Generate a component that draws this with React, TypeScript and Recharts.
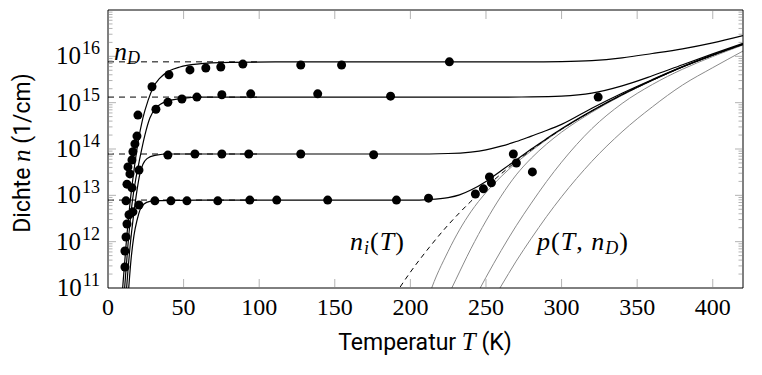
import React from "react";
import { ComposedChart, Line, Scatter, XAxis, YAxis } from "recharts";

// electron density n(T) for four donor concentrations (solid)
const c1T = [9.0, 9.7, 11.9, 14.5, 17.2, 19.8, 23.1, 26.4, 29.7, 34.3, 40.3, 47.5, 58.8, 80.6, 120, 200, 280, 300, 320, 340, 360, 380, 400, 420];
const c1N = [5e10, 1e11, 8.1e11, 6.5e12, 3.5e13, 1.35e14, 4.7e14, 1.09e15, 2.07e15, 3.4e15, 4.8e15, 5.9e15, 6.8e15, 7.4e15, 7.6e15, 7.6e15, 7.6e15, 7.7e15, 8.1e15, 9.3e15, 1.15e16, 1.45e16, 1.95e16, 2.8e16];

const c2T = [10.3, 11.0, 13.2, 15.8, 18.5, 21.1, 24.4, 27.7, 31.7, 39.6, 48.9, 60.8, 120, 200, 260, 280, 300, 320, 340, 360, 380, 400, 420];
const c2N = [5e10, 1e11, 8.5e11, 6.2e12, 2.37e13, 6.4e13, 2.0e14, 4.67e14, 7.7e14, 1.09e15, 1.23e15, 1.32e15, 1.32e15, 1.32e15, 1.32e15, 1.33e15, 1.38e15, 1.6e15, 2.3e15, 3.8e15, 6.6e15, 1.13e16, 1.9e16];

const c3T = [11.6, 12.3, 14.5, 17.2, 19.2, 21.1, 23.1, 25.8, 31.0, 40.9, 100, 200, 225, 240, 250, 260, 270, 280, 290, 300, 320, 340, 360, 380, 400, 420];
const c3N = [5e10, 1e11, 7.3e11, 4.4e12, 1.3e13, 2.9e13, 4.7e13, 6.2e13, 7.3e13, 7.8e13, 7.8e13, 7.8e13, 8.0e13, 8.6e13, 9.6e13, 1.15e14, 1.45e14, 1.9e14, 2.5e14, 3.4e14, 7.6e14, 1.6e15, 3.15e15, 6.0e15, 1.07e16, 1.85e16];

const c4T = [13.0, 13.7, 15.2, 17.2, 19.2, 21.1, 23.8, 27.7, 34.3, 60, 200, 212, 225, 232.5, 240, 250, 260, 270, 280, 290, 300, 320, 340, 360, 380, 400, 420];
const c4N = [5e10, 1e11, 4.0e11, 1.39e12, 2.9e12, 4.8e12, 6.5e12, 7.4e12, 7.7e12, 7.9e12, 7.9e12, 8.1e12, 8.9e12, 1.02e13, 1.3e13, 2.0e13, 3.4e13, 5.8e13, 1.0e14, 1.66e14, 2.72e14, 6.65e14, 1.49e15, 3.06e15, 5.92e15, 1.065e16, 1.82e16];

// intrinsic density (dashed)
const niT = [190, 192.8, 200, 212.6, 225, 232.5, 240, 250, 260, 270, 280, 290, 300, 320, 340, 360, 380, 400, 420];
const niN = [7.2e10, 1.0e11, 2.2e11, 7.6e11, 2.3e12, 4.2e12, 7.4e12, 1.5e13, 2.9e13, 5.4e13, 9.5e13, 1.62e14, 2.67e14, 6.6e14, 1.48e15, 3.05e15, 5.9e15, 1.06e16, 1.81e16];

// hole density p(T, nD) (gray)
const p1T = [256, 260, 270, 280, 290, 300, 320, 340, 360, 380, 400, 420];
const p1N = [6.7e10, 1.1e11, 3.8e11, 1.18e12, 3.45e12, 9.3e12, 5.4e13, 2.35e14, 8.1e14, 2.4e15, 5.7e15, 1.3e16];
const p2T = [240, 244, 250, 260, 270, 280, 290, 300, 320, 340, 360, 380, 400, 420];
const p2N = [4.2e10, 7.4e10, 1.7e11, 6.4e11, 2.2e12, 6.8e12, 1.97e13, 5.2e13, 2.74e14, 9.6e14, 2.46e15, 5.27e15, 9.9e15, 1.75e16];
const p3T = [222, 225, 230, 240, 250, 260, 270, 280, 290, 300, 320, 340, 360, 380, 400, 420];
const p3N = [4e10, 6.8e10, 1.5e11, 7.0e11, 2.8e12, 9.6e12, 2.76e13, 6.35e13, 1.27e14, 2.31e14, 6.2e14, 1.44e15, 3.01e15, 5.86e15, 1.06e16, 1.8e16];
const p4T = [210, 212.6, 225, 232.5, 240, 250, 260, 270, 280, 290, 300, 320, 340, 360, 380, 400, 420];
const p4N = [4e10, 7.3e10, 6.2e11, 1.8e12, 4.4e12, 1.15e13, 2.53e13, 5.03e13, 9.1e13, 1.58e14, 2.63e14, 6.55e14, 1.47e15, 3.04e15, 5.9e15, 1.06e16, 1.81e16];

// donor levels nD (short dashed lines)
const ndT = [0, 100];
const ndLevels = [7.6e15, 1.32e15, 7.8e13, 7.9e12];

// measured points
const dots1T = [19.8, 29.1, 40.3, 54.2, 64.7, 74.6, 89.2, 127.5, 154.5, 225.8];
const dots1N = [5.4e14, 2.2e15, 4.0e15, 5.1e15, 5.6e15, 5.9e15, 6.8e15, 6.5e15, 6.5e15, 7.6e15];
const dots2T = [31.7, 39.6, 48.9, 58.8, 75.3, 94.4, 138.7, 186.9, 324.2];
const dots2N = [7.2e14, 1.02e15, 1.2e15, 1.32e15, 1.48e15, 1.55e15, 1.55e15, 1.38e15, 1.32e15];
const dots3T = [39.6, 57.5, 75.3, 93.1, 127.5, 175.7];
const dots3N = [7.4e13, 7.8e13, 7.8e13, 7.8e13, 7.8e13, 7.5e13];
const dots4T = [31.0, 41.6, 52.2, 72.6, 93.8, 111.6, 145.3, 190.8, 212, 243, 248.3, 252.3, 253.6, 268.1, 270.1, 280.7];
const dots4N = [7.6e12, 7.6e12, 7.6e12, 7.6e12, 7.9e12, 7.9e12, 7.9e12, 7.9e12, 8.7e12, 1.07e13, 1.38e13, 2.5e13, 1.86e13, 7.8e13, 5.0e13, 3.2e13];
const lowT = [11.2, 11.2, 11.9, 12.55, 13.9, 16.5, 11.9, 20.5, 12.55, 15.85, 13.2, 14.5, 15.85, 16.5, 17.8, 19.15, 20.5];
const lowN = [2.84e11, 6.3e11, 1.26e12, 2.4e12, 3.8e12, 4.4e12, 7.6e12, 6.2e12, 1.74e13, 1.45e13, 4.1e13, 2.9e13, 5.8e13, 8.7e13, 1.29e14, 1.9e14, 3.5e13];

const xTicks = [0, 50, 100, 150, 200, 250, 300, 350, 400];

const SERIF = "'Liberation Serif', 'DejaVu Serif', serif";
const SANS = "Roboto, 'Noto Sans', sans-serif";
const TICK_GRAY = "#b3b3b3";

const rows = (ts: number[], ns: number[]) => ts.map((T, i) => ({ T, n: ns[i] }));

const yTicks: number[] = [];
for (let e = 11; e < 17; e++) for (let m = 1; m < 10; m++) yTicks.push(m * 10 ** e);
yTicks.push(1e17);

const isDecade = (v: number) => Math.abs(Math.log10(v) - Math.round(Math.log10(v))) < 1e-6;
const isEnd = (v: number) => v <= 1e11 * 1.0001 || v >= 1e17 * 0.9999;

function BottomTick({ x, y, payload }: any) {
  const v = payload.value;
  return (
    <g>
      {v > 0 && <line x1={x} x2={x} y1={y - 1} y2={y - 9} stroke={TICK_GRAY} />}
      <text x={x} y={y + 27} textAnchor="middle" fontFamily={SERIF} fontSize={24} fill="#000">
        {v}
      </text>
    </g>
  );
}

function TopTick({ x, y, payload }: any) {
  if (payload.value <= 0) return <g />;
  return <line x1={x} x2={x} y1={y + 1} y2={y + 9} stroke={TICK_GRAY} />;
}

function LeftTick({ x, y, payload }: any) {
  const v = payload.value;
  const major = isDecade(v);
  const exp = Math.round(Math.log10(v));
  return (
    <g>
      {!isEnd(v) && <line x1={x + 1} x2={x + (major ? 8 : 4.5)} y1={y} y2={y} stroke={TICK_GRAY} />}
      {major && exp < 17 && (
        <text x={x - 8} y={y + 8} textAnchor="end" fontFamily={SERIF} fontSize={25} fill="#000">
          10
          <tspan dx={1} dy={-10} fontSize={18}>
            {exp}
          </tspan>
        </text>
      )}
    </g>
  );
}

function RightTick({ x, y, payload }: any) {
  const v = payload.value;
  if (isEnd(v)) return <g />;
  const major = isDecade(v);
  return <line x1={x - 1} x2={x - (major ? 8 : 4.5)} y1={y} y2={y} stroke={TICK_GRAY} />;
}

const dot = (p: any) => <circle cx={p.cx} cy={p.cy} r={4.5} fill="#000" />;

export default function App() {
  const grayCurves = [rows(p1T, p1N), rows(p2T, p2N), rows(p3T, p3N), rows(p4T, p4N)];
  const blackCurves = [rows(c1T, c1N), rows(c2T, c2N), rows(c3T, c3N), rows(c4T, c4N)];
  const measured = [
    rows(dots1T, dots1N),
    rows(dots2T, dots2N),
    rows(dots3T, dots3N),
    rows(dots4T, dots4N),
    rows(lowT, lowN),
  ];

  return (
    <div style={{ position: "relative", width: 762, height: 375 }}>
      <style>{"body{margin:0}"}</style>
      <ComposedChart width={762} height={375} margin={{ top: 9, right: 18, bottom: 0, left: 0 }}>
        <XAxis
          xAxisId="b"
          type="number"
          dataKey="T"
          domain={[0, 420]}
          ticks={xTicks}
          interval={0}
          allowDataOverflow
          height={87}
          tickSize={0}
          tickMargin={0}
          tickLine={false}
          axisLine={{ stroke: "#000" }}
          tick={<BottomTick />}
        />
        <XAxis
          xAxisId="t"
          orientation="top"
          type="number"
          dataKey="T"
          domain={[0, 420]}
          ticks={xTicks}
          interval={0}
          allowDataOverflow
          height={1}
          tickSize={0}
          tickMargin={0}
          tickLine={false}
          axisLine={{ stroke: "#000" }}
          tick={<TopTick />}
        />
        <YAxis
          yAxisId="l"
          scale="log"
          type="number"
          domain={[1e11, 1e17]}
          ticks={yTicks}
          interval={0}
          allowDataOverflow
          width={108}
          tickSize={0}
          tickMargin={0}
          tickLine={false}
          axisLine={{ stroke: "#000" }}
          tick={<LeftTick />}
        />
        <YAxis
          yAxisId="r"
          orientation="right"
          scale="log"
          type="number"
          domain={[1e11, 1e17]}
          ticks={yTicks}
          interval={0}
          allowDataOverflow
          width={1}
          tickSize={0}
          tickMargin={0}
          tickLine={false}
          axisLine={{ stroke: "#000" }}
          tick={<RightTick />}
        />

        {grayCurves.map((d, i) => (
          <Line
            key={`p${i}`}
            xAxisId="b"
            yAxisId="l"
            data={d}
            dataKey="n"
            type="monotone"
            stroke="#8a8a8a"
            strokeWidth={1}
            dot={false}
            activeDot={false}
            isAnimationActive={false}
          />
        ))}
        {ndLevels.map((v, i) => (
          <Line
            key={`nd${i}`}
            xAxisId="b"
            yAxisId="l"
            data={ndT.map((T) => ({ T, n: v }))}
            dataKey="n"
            stroke="#000"
            strokeWidth={1}
            strokeDasharray="6 5"
            dot={false}
            activeDot={false}
            isAnimationActive={false}
          />
        ))}
        <Line
          xAxisId="b"
          yAxisId="l"
          data={rows(niT, niN)}
          dataKey="n"
          type="monotone"
          stroke="#000"
          strokeWidth={1}
          strokeDasharray="5 4"
          dot={false}
          activeDot={false}
          isAnimationActive={false}
        />
        {blackCurves.map((d, i) => (
          <Line
            key={`c${i}`}
            xAxisId="b"
            yAxisId="l"
            data={d}
            dataKey="n"
            type="monotone"
            stroke="#000"
            strokeWidth={1.2}
            dot={false}
            activeDot={false}
            isAnimationActive={false}
          />
        ))}
        {measured.map((d, i) => (
          <Scatter
            key={`m${i}`}
            xAxisId="b"
            yAxisId="l"
            data={d}
            dataKey="n"
            shape={dot}
            isAnimationActive={false}
          />
        ))}
      </ComposedChart>

      <svg
        width={762}
        height={375}
        style={{ position: "absolute", left: 0, top: 0, pointerEvents: "none" }}
      >
        <text x={114} y={60} fontFamily={SERIF} fontSize={26} fontStyle="italic">
          n
          <tspan dy={4} fontSize={18}>
            D
          </tspan>
        </text>
        <text x={350} y={250} fontFamily={SERIF} fontSize={26} letterSpacing={1}>
          <tspan fontStyle="italic">n</tspan>
          <tspan dy={4} fontSize={18} fontStyle="italic">
            i
          </tspan>
          <tspan dy={-4}>(</tspan>
          <tspan fontStyle="italic">T</tspan>
          <tspan>)</tspan>
        </text>
        <text x={537} y={250} fontFamily={SERIF} fontSize={26} letterSpacing={1}>
          <tspan fontStyle="italic">p</tspan>
          <tspan>(</tspan>
          <tspan fontStyle="italic">T</tspan>
          <tspan>, </tspan>
          <tspan fontStyle="italic">n</tspan>
          <tspan dy={4} fontSize={18} fontStyle="italic">
            D
          </tspan>
          <tspan dy={-4}>)</tspan>
        </text>
        <text x={425} y={350} textAnchor="middle" fontFamily={SANS} fontSize={23}>
          Temperatur{" "}
          <tspan fontFamily={SERIF} fontStyle="italic" fontSize={25}>
            T
          </tspan>{" "}
          (K)
        </text>
        <text
          transform="translate(30,153) rotate(-90)"
          textAnchor="middle"
          fontFamily={SANS}
          fontSize={23}
        >
          Dichte{" "}
          <tspan fontFamily={SERIF} fontStyle="italic" fontSize={25}>
            n
          </tspan>{" "}
          (1/cm)
        </text>
      </svg>
    </div>
  );
}
